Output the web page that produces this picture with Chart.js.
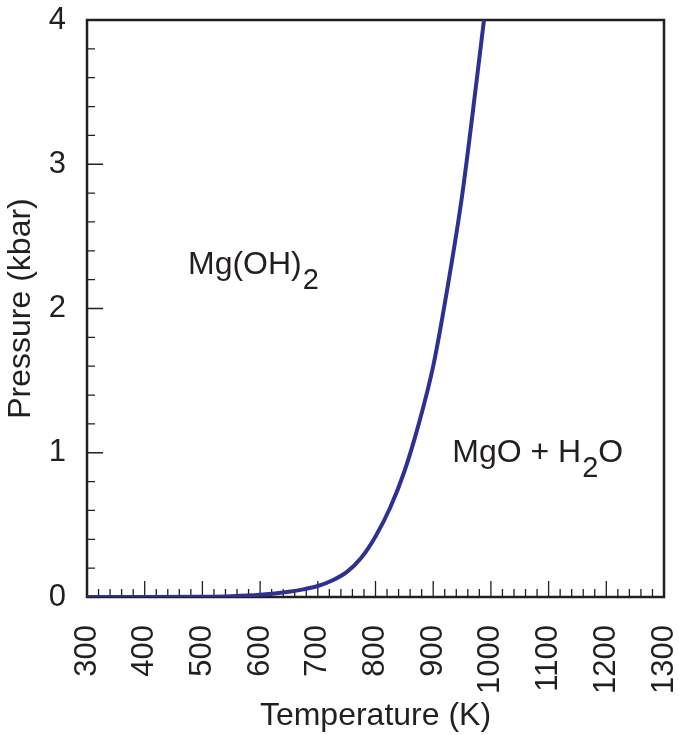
<!DOCTYPE html>
<html>
<head>
<meta charset="utf-8">
<script src="https://cdn.jsdelivr.net/npm/chart.js@4"></script>
<style>
  html, body { margin: 0; padding: 0; background: #fff; }
  #wrap { width: 679px; height: 735px; }
</style>
</head>
<body>
<div id="wrap"><canvas id="phaseChart"></canvas></div>
<script>
// Mg(OH)2 = MgO + H2O phase boundary

const temperatures = [300, 400, 500, 550, 600, 650, 675, 700, 725, 750, 775, 800, 825, 850, 875, 900, 925, 950, 975, 988];
const pressures = [0, 0, 0.002, 0.006, 0.016, 0.037, 0.053, 0.076, 0.114, 0.172, 0.27, 0.42, 0.615, 0.87, 1.2, 1.6, 2.15, 2.78, 3.57, 4.0];

const xTicks = [300, 400, 500, 600, 700, 800, 900, 1000, 1100, 1200, 1300];
const yTicks = [0, 1, 2, 3, 4];

// region labels: [main text, subscript, trailing text, T, P]
const regionLabels = [
  ["Mg(OH)", "2", "", 475, 2.3],
  ["MgO + H", "2", "O", 933, 1.0],
];

const FONT = '"Liberation Sans", Arial, Helvetica, sans-serif';
const INK = "#231f20";

function noPadding(s) {
  s.paddingLeft = 0;
  s.paddingRight = 0;
  s.paddingTop = 0;
  s.paddingBottom = 0;
}

const framePlugin = {
  id: "frame",
  beforeDatasetsDraw(chart) {
    const { ctx, chartArea: a, scales } = chart;
    ctx.save();
    ctx.strokeStyle = INK;
    // minor/major ticks, drawn inward
    ctx.lineWidth = 1.3;
    ctx.beginPath();
    for (let t = 300; t <= 1300; t += 20) {
      const x = scales.x.getPixelForValue(t);
      const len = t % 100 === 0 ? 16 : 8;
      ctx.moveTo(x, a.bottom);
      ctx.lineTo(x, a.bottom - len);
    }
    for (let i = 0; i <= 20; i++) {
      const p = i * 0.2;
      const y = scales.y.getPixelForValue(p);
      const len = i % 5 === 0 ? 16 : 8;
      ctx.moveTo(a.left, y);
      ctx.lineTo(a.left + len, y);
    }
    ctx.stroke();
    ctx.lineWidth = 2.5;
    ctx.strokeRect(a.left, a.top, a.right - a.left, a.bottom - a.top);
    ctx.restore();
  },
  afterDatasetsDraw(chart) {
    const { ctx, scales } = chart;
    ctx.save();
    ctx.fillStyle = INK;
    ctx.textBaseline = "middle";
    ctx.textAlign = "left";
    regionLabels.forEach(([main, sub, tail, t, p]) => {
      let x = scales.x.getPixelForValue(t);
      const y = scales.y.getPixelForValue(p);
      ctx.font = "32px " + FONT;
      ctx.fillText(main, x, y);
      x += ctx.measureText(main).width;
      ctx.font = "29px " + FONT;
      ctx.fillText(sub, x + 1, y + 16);
      x += ctx.measureText(sub).width + 1;
      ctx.font = "32px " + FONT;
      ctx.fillText(tail, x, y);
    });
    ctx.restore();
  },
};

const ctx = document.getElementById("phaseChart");

new Chart(ctx, {
  type: "line",
  data: {
    datasets: [
      {
        data: temperatures.map((t, i) => ({ x: t, y: pressures[i] })),
        borderColor: "#2e3192",
        borderWidth: 4,
        pointRadius: 0,
        cubicInterpolationMode: "monotone",
        fill: false,
      },
    ],
  },
  options: {
    responsive: true,
    maintainAspectRatio: false,
    animation: false,
    layout: { autoPadding: false, padding: { top: 20, right: 15, left: 0, bottom: 0 } },
    plugins: { legend: { display: false }, tooltip: { enabled: false } },
    scales: {
      x: {
        type: "linear",
        min: 300,
        max: 1300,
        afterBuildTicks: (s) => { s.ticks = xTicks.map((v) => ({ value: v })); },
        afterFit: (s) => { s.height = 138; noPadding(s); },
        grid: { display: false, drawTicks: false },
        border: { display: false },
        ticks: {
          minRotation: 90,
          maxRotation: 90,
          padding: 28,
          color: INK,
          font: { family: FONT, size: 31 },
          callback: (v) => String(v),
        },
        title: {
          display: true,
          text: "Temperature (K)",
          color: INK,
          font: { family: FONT, size: 32 },
          padding: 0,
        },
      },
      y: {
        min: 0,
        max: 4,
        afterBuildTicks: (s) => { s.ticks = yTicks.map((v) => ({ value: v })); },
        afterFit: (s) => { s.width = 87; noPadding(s); },
        grid: { display: false, drawTicks: false },
        border: { display: false },
        ticks: {
          padding: 21,
          color: INK,
          font: { family: FONT, size: 31 },
          callback: (v) => String(v),
        },
        title: {
          display: true,
          text: "Pressure (kbar)",
          color: INK,
          font: { family: FONT, size: 32 },
          padding: { top: 2, bottom: 0 },
        },
      },
    },
  },
  plugins: [framePlugin],
});
</script>
</body>
</html>
